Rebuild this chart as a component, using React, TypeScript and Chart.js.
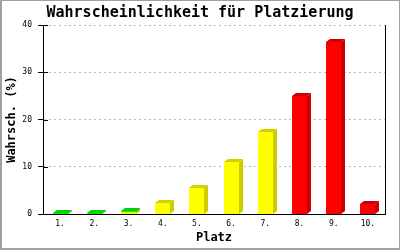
import React, { useEffect, useRef } from "react";
import { Chart, registerables } from "chart.js";

Chart.register(...registerables);

const places = ["1.", "2.", "3.", "4.", "5.", "6.", "7.", "8.", "9.", "10."];
const yellowVals = [0, 0, 0.5, 2.4, 5.4, 11.1, 17.3, 0, 0, 0];
const greenVals = [0.15, 0.3, 0.2, 0, 0, 0, 0, 0, 0, 0];
const redVals = [0, 0, 0, 0, 0, 0, 0, 25.0, 36.3, 2.1];
const yTicks = [0, 10, 20, 30, 40];

const TITLE = "Wahrscheinlichkeit für Platzierung";
const X_TITLE = "Platz";
const Y_TITLE = "Wahrsch. (%)";

const MONO = "'DejaVu Sans Mono', 'Liberation Mono', monospace";

const FACES = [
  { front: "#ffff00", side: "#cccc00", top: "#d4d000" },
  { front: "#00ee00", side: "#00aa00", top: "#00d400" },
  { front: "#ff0000", side: "#cc0000", top: "#cc0000" },
];
const DX = 4;
const DY = 3;

const framePlugin = {
  id: "frame",
  beforeDraw(chart: any) {
    const { ctx, width, height } = chart;
    ctx.save();
    ctx.fillStyle = "#ffffff";
    ctx.fillRect(0, 0, width, height);
    ctx.fillStyle = "#a0a0a0";
    ctx.fillRect(0, 0, width, 1);
    ctx.fillRect(0, 0, 2, height);
    ctx.fillRect(width - 1, 0, 1, height);
    ctx.fillRect(0, height - 2, width, 2);
    ctx.restore();
  },
  afterDraw(chart: any) {
    const { ctx, chartArea } = chart;
    const yScale = chart.scales.y;
    ctx.save();
    ctx.strokeStyle = "#000000";
    ctx.lineWidth = 1;
    ctx.beginPath();
    yTicks.forEach((v) => {
      const py = Math.round(yScale.getPixelForValue(v)) + 0.5;
      ctx.moveTo(chartArea.left, py);
      ctx.lineTo(chartArea.left + 5, py);
    });
    ctx.stroke();
    ctx.restore();
  },
};

const bar3dPlugin = {
  id: "bar3d",
  afterDatasetsDraw(chart: any) {
    const ctx = chart.ctx;
    ctx.save();
    chart.data.datasets.forEach((ds: any, di: number) => {
      const meta = chart.getDatasetMeta(di);
      const c = FACES[di];
      meta.data.forEach((el: any, i: number) => {
        const v = ds.data[i];
        if (!v) return;
        const p = el.getProps(["x", "y", "base", "width"], true);
        const l = Math.round(p.x - p.width / 2);
        const r = Math.round(p.x + p.width / 2);
        const t = Math.round(p.y);
        const b = Math.round(p.base);
        ctx.fillStyle = c.side;
        ctx.beginPath();
        ctx.moveTo(r, b);
        ctx.lineTo(r + DX, b - DY);
        ctx.lineTo(r + DX, t - DY);
        ctx.lineTo(r, t);
        ctx.closePath();
        ctx.fill();
        ctx.fillStyle = c.top;
        ctx.beginPath();
        ctx.moveTo(l, t);
        ctx.lineTo(l + DX, t - DY);
        ctx.lineTo(r + DX, t - DY);
        ctx.lineTo(r, t);
        ctx.closePath();
        ctx.fill();
        ctx.fillStyle = c.front;
        ctx.fillRect(l, t, r - l, b - t);
      });
    });
    ctx.restore();
  },
};

export default function App() {
  const ref = useRef<HTMLCanvasElement | null>(null);

  useEffect(() => {
    if (!ref.current) return;
    const chart = new Chart(ref.current, {
      type: "bar",
      data: {
        labels: places,
        datasets: [
          { label: "gelb", data: yellowVals, backgroundColor: "rgba(0,0,0,0)" },
          { label: "grün", data: greenVals, backgroundColor: "rgba(0,0,0,0)" },
          { label: "rot", data: redVals, backgroundColor: "rgba(0,0,0,0)" },
        ],
      },
      options: {
        responsive: false,
        animation: false,
        devicePixelRatio: 1,
        events: [],
        layout: { padding: 0 },
        datasets: { bar: { barPercentage: 0.44, categoryPercentage: 1 } },
        plugins: {
          legend: { display: false },
          tooltip: { enabled: false },
          title: {
            display: true,
            text: TITLE,
            color: "#000000",
            font: { family: MONO, size: 15, weight: "bold" },
            padding: { top: 4, bottom: 3 },
          },
        },
        scales: {
          x: {
            stacked: true,
            grid: { display: false, drawTicks: false },
            border: { display: true, color: "#000000", width: 1 },
            ticks: {
              color: "#000000",
              padding: 5,
              font: { family: MONO, size: 8 },
              maxRotation: 0,
              autoSkip: false,
            },
            title: {
              display: true,
              text: X_TITLE,
              color: "#000000",
              font: { family: MONO, size: 12, weight: "bold" },
              padding: { top: 0, bottom: 5 },
            },
            afterFit(scale: any) {
              scale.height = 36;
            },
          },
          y: {
            stacked: true,
            min: 0,
            max: 40,
            ticks: {
              stepSize: 10,
              color: "#000000",
              padding: 6,
              font: { family: MONO, size: 8 },
            },
            grid: {
              color: "#bbbbbb",
              lineWidth: 1,
              drawTicks: true,
              tickLength: 5,
              tickColor: "#000000",
              tickBorderDash: [],
            },
            border: { display: true, color: "#000000", width: 1, dash: [2, 3] },
            title: {
              display: true,
              text: Y_TITLE,
              color: "#000000",
              font: { family: MONO, size: 12, weight: "bold" },
              padding: { top: 5, bottom: 0 },
            },
            afterFit(scale: any) {
              scale.width = 43;
            },
          },
          y2: {
            position: "right",
            min: 0,
            max: 40,
            grid: { display: false, drawTicks: false },
            ticks: { display: false },
            border: { display: true, color: "#000000", width: 1 },
            afterFit(scale: any) {
              scale.width = 15;
            },
          },
        },
      },
      plugins: [framePlugin, bar3dPlugin],
    } as any);
    return () => chart.destroy();
  }, []);

  return (
    <div style={{ position: "absolute", left: 0, top: 0, width: 400, height: 250 }}>
      <canvas ref={ref} width={400} height={250} style={{ display: "block" }} />
    </div>
  );
}
